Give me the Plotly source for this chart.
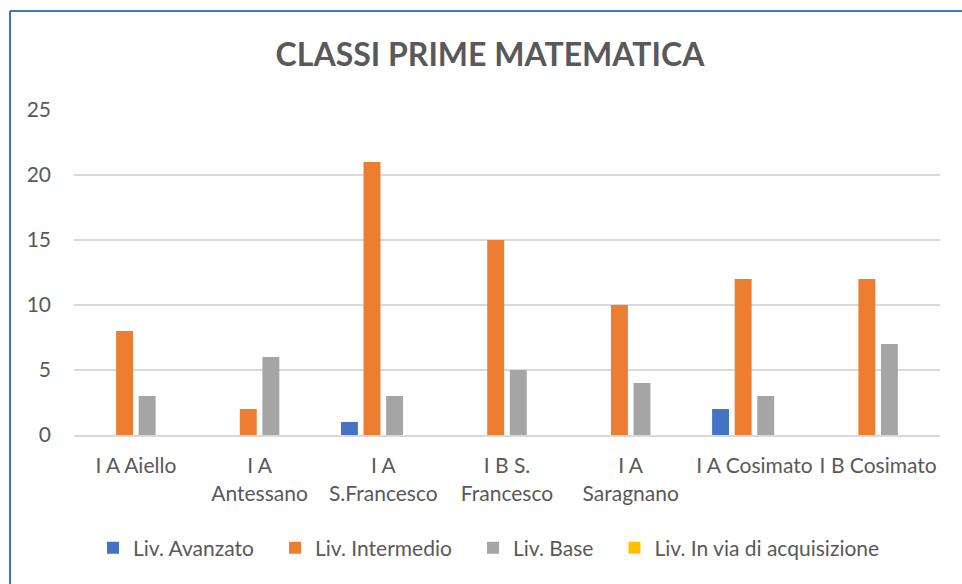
import plotly.graph_objects as go

categories = ["I A Aiello", "I A<br>Antessano", "I A<br>S.Francesco", "I B S.<br>Francesco",
              "I A<br>Saragnano", "I A Cosimato", "I B Cosimato"]
avanzato = [0, 0, 1, 0, 0, 2, 0]
intermedio = [8, 2, 21, 15, 10, 12, 12]
base = [3, 6, 3, 5, 4, 3, 7]
in_via = [0, 0, 0, 0, 0, 0, 0]

series = [
    ("Liv. Avanzato", avanzato, "#4472C4"),
    ("Liv. Intermedio", intermedio, "#ED7D31"),
    ("Liv. Base", base, "#A5A5A5"),
    ("Liv. In via di acquisizione", in_via, "#FFC000"),
]

FONT = "Lato, 'Open Sans', sans-serif"
PAD = "\u00a0\u00a0\u00a0"
fig = go.Figure()
for i, (name, vals, col) in enumerate(series):
    fig.add_trace(go.Bar(x=categories, y=vals, name=name + (PAD if i < 3 else ""),
                         marker_color=col, marker_line_width=0))

L, R, T, B = 74, 22, 110, 149
W, H = 962, 584
pw, ph = W - L - R, H - T - B
def px(x):
    return (x - L) / pw
def py(y):
    return (H - B - y) / ph

fig.update_layout(
    width=W, height=H,
    margin=dict(l=L, r=R, t=T, b=B),
    paper_bgcolor="white", plot_bgcolor="white",
    barmode="group", bargap=0.27, bargroupgap=0.25,
    title=dict(text="<b>CLASSI PRIME MATEMATICA</b>", xref="container", x=490 / W,
               xanchor="center", yref="container", y=1 - 55 / H, yanchor="middle",
               font=dict(family=FONT, size=32, color="#595959")),
    font=dict(family=FONT, size=21, color="#595959"),
    xaxis=dict(showgrid=False, showline=True, linecolor="#D9D9D9", linewidth=2,
               ticks="", tickangle=0, ticklabelstandoff=11,
               tickfont=dict(size=21, color="#595959")),
    yaxis=dict(range=[0, 25], dtick=5, showgrid=True, gridcolor="#D9D9D9", gridwidth=1.5,
               zeroline=False, ticks="", ticklabelstandoff=22,
               tickfont=dict(size=21, color="#595959")),
    legend=dict(orientation="h", x=px(489), xanchor="center", y=py(548), yanchor="middle",
                font=dict(size=21, color="#595959"), itemwidth=30,
                traceorder="normal"),
    showlegend=True,
)

# chart border (top and left edges visible)
fig.add_shape(type="line", xref="paper", yref="paper", x0=px(10), x1=px(975),
              y0=py(11), y1=py(11), line=dict(color="#4472C4", width=2))
fig.add_shape(type="line", xref="paper", yref="paper", x0=px(10), x1=px(10),
              y0=py(11), y1=py(600), line=dict(color="#4472C4", width=2))

fig.write_html("out.html", config={"displayModeBar": False},
               post_script="document.body.style.margin='0';")
